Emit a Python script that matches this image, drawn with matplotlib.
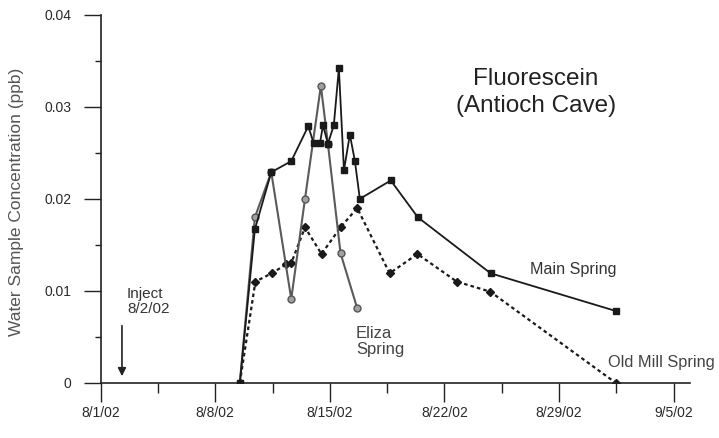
import matplotlib
matplotlib.use("Agg")
import matplotlib.pyplot as plt
from matplotlib.ticker import MultipleLocator

plt.rcParams['font.family'] = ['Liberation Sans', 'DejaVu Sans']

# Days after 8/1/02
main_days = [8.5, 9.42, 10.42, 11.64, 12.68, 13.0, 13.4, 13.58, 13.88, 14.24,
             14.55, 14.86, 15.22, 15.53, 15.83, 17.72, 19.37, 23.82, 31.47]
main_vals = [0.0, 0.0167, 0.0229, 0.0241, 0.0279, 0.0261, 0.0261, 0.0280, 0.0260,
             0.0280, 0.0342, 0.0231, 0.0270, 0.0241, 0.0200, 0.0220, 0.0180,
             0.0119, 0.0078]

eliza_days = [8.5, 9.42, 10.42, 11.64, 12.48, 13.45, 13.88, 14.65, 15.67]
eliza_vals = [0.0, 0.0180, 0.0229, 0.0091, 0.0200, 0.0323, 0.0260, 0.0141, 0.0081]

oldmill_days = [8.5, 9.45, 10.45, 11.35, 11.64, 12.48, 13.49, 14.65, 15.67,
                17.65, 19.35, 21.75, 23.8, 31.45]
oldmill_vals = [0.0, 0.0110, 0.0119, 0.0129, 0.0130, 0.0169, 0.0140, 0.0169,
                0.0190, 0.0119, 0.0140, 0.0110, 0.0099, 0.0]

x_ticks = [0, 7, 14, 21, 28, 35]
x_tick_labels = ['8/1/02', '8/8/02', '8/15/02', '8/22/02', '8/29/02', '9/5/02']
y_ticks = [0, 0.01, 0.02, 0.03, 0.04]
y_tick_labels = ['0', '0.01', '0.02', '0.03', '0.04']

fig = plt.figure(figsize=(7.19, 4.38), dpi=100)
ax = fig.add_axes([100.7 / 719, 1 - 382.7 / 438, (690 - 100.7) / 719, (382.7 - 15) / 438])

ax.plot(main_days, main_vals, color='#1a1a1a', lw=1.3, marker='s', ms=4.2,
        mfc='#1a1a1a', mec='#1a1a1a', zorder=4)
ax.plot(eliza_days, eliza_vals, color='#5a5a5a', lw=1.5, marker='o', ms=5,
        mfc='#a0a0a0', mec='#555555', mew=1.0, zorder=3)
ax.plot(oldmill_days, oldmill_vals, color='#1a1a1a', lw=1.6, ls=(0, (1.6, 1.4)),
        marker='D', ms=4, mfc='#1a1a1a', mec='#1a1a1a', zorder=2)

ax.set_xlim(0, 36)
ax.set_ylim(0, 0.04)

ax.set_xticks(x_ticks)
ax.set_xticklabels(x_tick_labels)
ax.set_yticks(y_ticks)
ax.set_yticklabels(y_tick_labels)
ax.xaxis.set_minor_locator(MultipleLocator(3.5))
ax.yaxis.set_minor_locator(MultipleLocator(0.005))

ax.tick_params(axis='both', which='major', direction='out', color='#222222',
               width=1.0, labelsize=10, labelcolor='#2a2a2a')
ax.tick_params(axis='y', which='major', length=12.2, pad=9)
ax.tick_params(axis='y', which='minor', length=4.3, width=1.0, color='#222222')
ax.tick_params(axis='x', which='major', length=13.7, pad=3)
ax.tick_params(axis='x', which='minor', length=7.5, width=1.0, color='#222222')

for s in ['top', 'right']:
    ax.spines[s].set_visible(False)
for s in ['left', 'bottom']:
    ax.spines[s].set_linewidth(1.2)
    ax.spines[s].set_color('#222222')

fig.text(17 / 719, 1 - 202 / 438, 'Water Sample Concentration (ppb)', rotation=90,
         ha='center', va='center', fontsize=12.5, color='#555555')

ax.text(26.6, 0.0316, 'Fluorescein\n(Antioch Cave)', ha='center', va='center',
        fontsize=17.5, color='#222222', linespacing=1.3)

ax.text(1.6, 0.0088, 'Inject\n8/2/02', ha='left', va='center', fontsize=11,
        color='#333333', linespacing=1.1)
ax.annotate('', xy=(1.3, 0.0004), xytext=(1.3, 0.0065),
            arrowprops=dict(arrowstyle='-|>', color='#222222', lw=1.2,
                            mutation_scale=12))

ax.text(15.6, 0.0045, 'Eliza\nSpring', ha='left', va='center', fontsize=12,
        color='#444444', linespacing=1.1)
ax.text(26.2, 0.0123, 'Main Spring', ha='left', va='center', fontsize=11.6,
        color='#333333')
ax.text(31.0, 0.0022, 'Old Mill Spring', ha='left', va='center', fontsize=11.8,
        color='#444444')

fig.savefig('out.png', dpi=100)
